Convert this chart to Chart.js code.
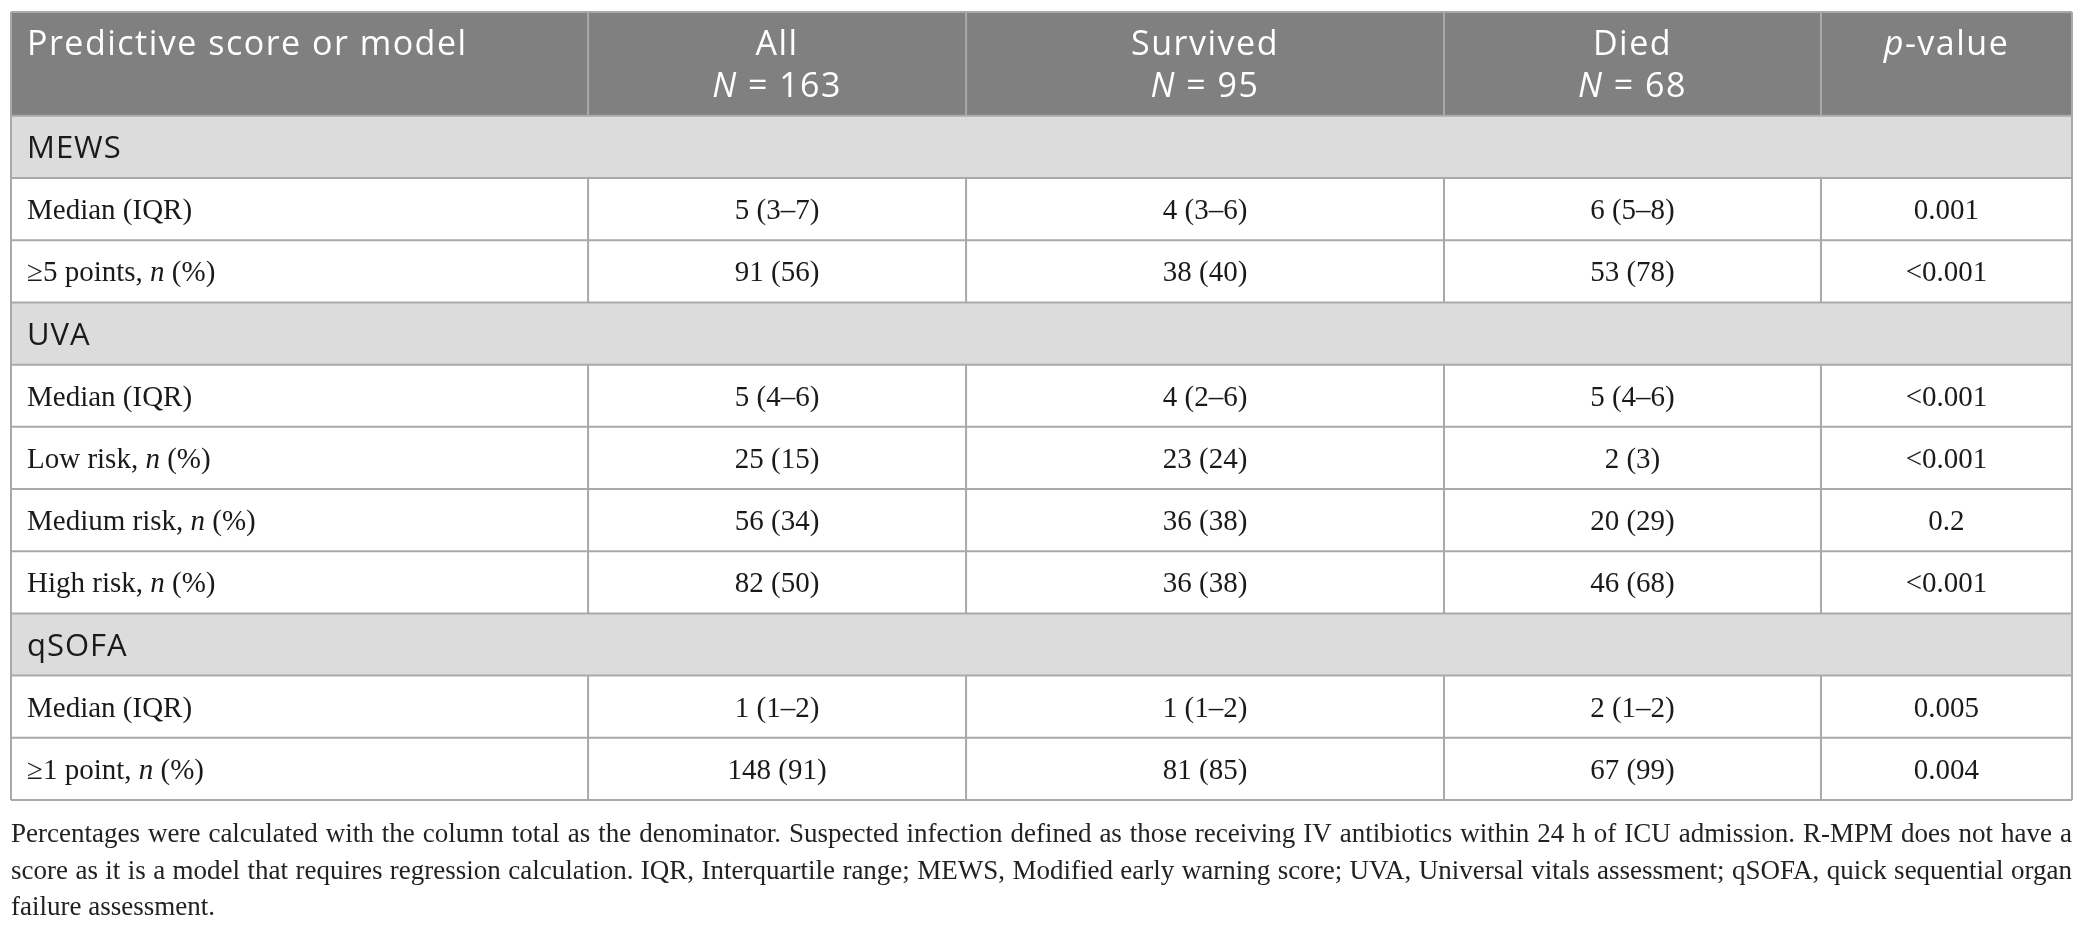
<!DOCTYPE html>
<html>
<head>
<meta charset="utf-8">
<script src="https://cdn.jsdelivr.net/npm/chart.js@4.4.1/dist/chart.umd.min.js"></script>
<style>
  html, body { margin: 0; padding: 0; background: #fff; }
  #wrap { width: 2087px; height: 929px; position: relative; }
</style>
</head>
<body>
<div id="wrap"><canvas id="tableChart"></canvas></div>
<script>
// TABLE DATA
const headTitles = ['Predictive score or model', 'All', 'Survived', 'Died', '_p_-value'];
const headCounts = [null, 163, 95, 68, null];
const sections = ['MEWS', 'UVA', 'qSOFA'];
const rowGroup = [0, 0, 1, 1, 1, 1, 2, 2];
const rowLabels = ['Median (IQR)', '≥5 points, _n_ (%)', 'Median (IQR)', 'Low risk, _n_ (%)',
  'Medium risk, _n_ (%)', 'High risk, _n_ (%)', 'Median (IQR)', '≥1 point, _n_ (%)'];
const allValues = ['5 (3–7)', '91 (56)', '5 (4–6)', '25 (15)', '56 (34)', '82 (50)', '1 (1–2)', '148 (91)'];
const survivedValues = ['4 (3–6)', '38 (40)', '4 (2–6)', '23 (24)', '36 (38)', '36 (38)', '1 (1–2)', '81 (85)'];
const diedValues = ['6 (5–8)', '53 (78)', '5 (4–6)', '2 (3)', '20 (29)', '46 (68)', '2 (1–2)', '67 (99)'];
const pValues = ['0.001', '<0.001', '<0.001', '<0.001', '0.2', '<0.001', '0.005', '0.004'];
const noteLines = [
  'Percentages were calculated with the column total as the denominator. Suspected infection defined as those receiving IV antibiotics within 24 h of ICU admission. R-MPM does not have a',
  'score as it is a model that requires regression calculation. IQR, Interquartile range; MEWS, Modified early warning score; UVA, Universal vitals assessment; qSOFA, quick sequential organ',
  'failure assessment.'
];

// layout (x in % of table width, y in row heights)
const colEdges = [0, 28.0, 46.34, 69.53, 87.82, 100];
const headerSpan = 1.67;

// build the row list: section bar then its rows
const rows = [];
sections.forEach((s, g) => {
  rows.push({ section: s });
  rowGroup.forEach((grp, i) => {
    if (grp === g) rows.push({ cells: [rowLabels[i], allValues[i], survivedValues[i], diedValues[i], pValues[i]] });
  });
});

const SANS = '"Open Sans", "Noto Sans", sans-serif';
const SERIF = '"Liberation Serif", "DejaVu Serif", serif';

// draws text where _x_ parts are italic
function drawRich(ctx, text, x, y, align, size, family) {
  const parts = text.split('_');
  const fonts = parts.map((p, i) => (i % 2 ? 'italic ' : '') + size + 'px ' + family);
  let total = 0;
  const widths = parts.map((p, i) => { ctx.font = fonts[i]; const w = ctx.measureText(p).width; total += w; return w; });
  let cx = align === 'center' ? x - total / 2 : x;
  ctx.textAlign = 'left';
  parts.forEach((p, i) => {
    ctx.font = fonts[i];
    ctx.fillText(p, cx, y);
    cx += widths[i];
  });
}

const tablePlugin = {
  id: 'tablePlugin',
  afterDraw(chart) {
    const ctx = chart.ctx;
    const xs = chart.scales.x, ys = chart.scales.y;
    const X = v => xs.getPixelForValue(v);
    const Y = v => ys.getPixelForValue(v);
    const left = X(0), right = X(100);
    const line = '#a9a9a9';
    ctx.save();
    ctx.textBaseline = 'alphabetic';

    // header
    const hTop = Y(-headerSpan), hBot = Y(0);
    ctx.fillStyle = '#808080';
    ctx.fillRect(left, hTop, right - left, hBot - hTop);
    ctx.letterSpacing = '1.5px';
    ctx.fillStyle = '#ffffff';
    headTitles.forEach((t, c) => {
      if (c === 0) {
        drawRich(ctx, t, X(colEdges[0]) + 16, hTop + 43, 'left', 34, SANS);
      } else {
        const mid = (X(colEdges[c]) + X(colEdges[c + 1])) / 2;
        drawRich(ctx, t, mid, hTop + 43, 'center', 34, SANS);
        if (headCounts[c] !== null) drawRich(ctx, '_N_ = ' + headCounts[c], mid, hTop + 85, 'center', 34, SANS);
      }
    });

    // body rows
    rows.forEach((r, i) => {
      const top = Y(i), bot = Y(i + 1), mid = (top + bot) / 2;
      if (r.section) {
        ctx.fillStyle = '#dcdcdc';
        ctx.fillRect(left, top, right - left, bot - top);
        ctx.letterSpacing = '1px';
        ctx.fillStyle = '#1a1a1a';
        drawRich(ctx, r.section, left + 16, mid + 11, 'left', 31, SANS);
      } else {
        ctx.letterSpacing = '0px';
        ctx.fillStyle = '#1a1a1a';
        r.cells.forEach((t, c) => {
          if (c === 0) drawRich(ctx, t, left + 16, mid + 10, 'left', 29, SERIF);
          else drawRich(ctx, t, (X(colEdges[c]) + X(colEdges[c + 1])) / 2, mid + 10, 'center', 29, SERIF);
        });
      }
    });
    ctx.letterSpacing = '0px';

    // grid lines
    ctx.lineWidth = 2;
    ctx.strokeStyle = line;
    ctx.beginPath();
    for (let i = 0; i <= rows.length; i++) {
      ctx.moveTo(left, Y(i)); ctx.lineTo(right, Y(i));
    }
    ctx.moveTo(left, hTop); ctx.lineTo(right, hTop);
    ctx.moveTo(left, hTop); ctx.lineTo(left, Y(rows.length));
    ctx.moveTo(right, hTop); ctx.lineTo(right, Y(rows.length));
    colEdges.slice(1, -1).forEach(e => {
      ctx.moveTo(X(e), hTop); ctx.lineTo(X(e), hBot);
      rows.forEach((r, i) => {
        if (!r.section) { ctx.moveTo(X(e), Y(i)); ctx.lineTo(X(e), Y(i + 1)); }
      });
    });
    ctx.stroke();

    // footnote, justified like the source
    const base = Y(rows.length);
    ctx.fillStyle = '#222222';
    ctx.font = '27px ' + SERIF;
    noteLines.forEach((ln, k) => {
      const y = base + 42 + k * 36.5;
      const words = ln.split(' ');
      if (k === noteLines.length - 1) {
        ctx.fillText(ln, left, y);
        return;
      }
      const ws = words.map(w => ctx.measureText(w).width);
      const sum = ws.reduce((a, b) => a + b, 0);
      const gap = (right - left - sum) / (words.length - 1);
      let cx = left;
      words.forEach((w, j) => { ctx.fillText(w, cx, y); cx += ws[j] + gap; });
    });
    ctx.restore();
  }
};

new Chart(document.getElementById('tableChart'), {
  type: 'scatter',
  data: { datasets: [] },
  options: {
    responsive: true,
    maintainAspectRatio: false,
    animation: false,
    layout: { padding: { left: 11, top: 12, right: 15, bottom: 129 } },
    plugins: { legend: { display: false }, tooltip: { enabled: false } },
    scales: {
      x: { type: 'linear', min: 0, max: 100, display: false },
      y: { type: 'linear', min: -headerSpan, max: rows.length, reverse: true, display: false }
    }
  },
  plugins: [tablePlugin]
});
</script>
</body>
</html>
